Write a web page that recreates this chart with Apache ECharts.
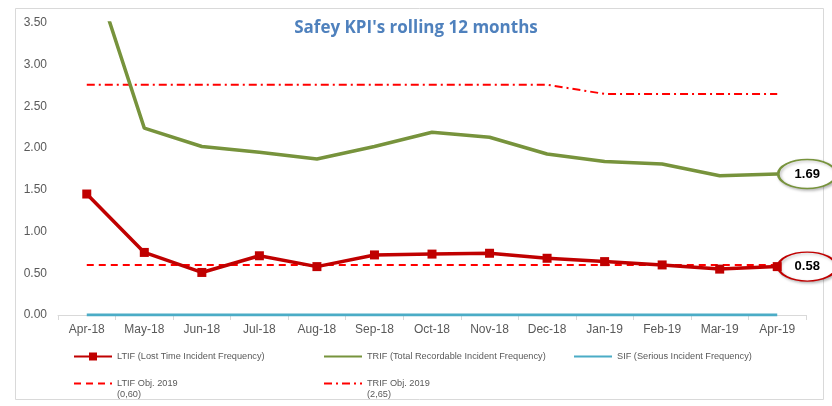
<!DOCTYPE html>
<html>
<head>
<meta charset="utf-8">
<script src="https://cdn.jsdelivr.net/npm/echarts@6/dist/echarts.min.js"></script>
<style>html,body{margin:0;padding:0;background:#fff}#c{width:832px;height:406px}</style>
</head>
<body>
<div id="c"></div>
<script>
const categories = ['Apr-18','May-18','Jun-18','Jul-18','Aug-18','Sep-18','Oct-18','Nov-18','Dec-18','Jan-19','Feb-19','Mar-19','Apr-19'];
const ltif = [1.45,0.75,0.51,0.71,0.58,0.72,0.73,0.74,0.68,0.64,0.60,0.55,0.58];
const trif = [4.35,2.24,2.02,1.95,1.87,2.02,2.19,2.13,1.93,1.84,1.81,1.67,1.69];
const sif = [0,0,0,0,0,0,0,0,0,0,0,0,0];
const ltifObj = [0.60,0.60,0.60,0.60,0.60,0.60,0.60,0.60,0.60,0.60,0.60,0.60,0.60];
const trifObj = [2.76,2.76,2.76,2.76,2.76,2.76,2.76,2.76,2.76,2.65,2.65,2.65,2.65];
const yTicks = {min: 0, max: 3.5, interval: 0.5};
const titleText = "Safey KPI's rolling 12 months";
const names = {
  ltif: 'LTIF (Lost Time Incident Frequency)',
  trif: 'TRIF (Total Recordable Incident Frequency)',
  sif: 'SIF (Serious Incident Frequency)',
  ltifObj: 'LTIF Obj. 2019\n(0,60)',
  trifObj: 'TRIF Obj. 2019\n(2,65)'
};

const FONT = 'Liberation Sans';
const ellipse = 'path://M0,15 A29,15 0 1,1 58,15 A29,15 0 1,1 0,15 Z';
const last = categories.length - 1;

function callout(values, color) {
  return {
    symbol: ellipse,
    symbolSize: [58, 29],
    symbolOffset: [30, 0],
    silent: true,
    itemStyle: {color: '#fff', borderColor: color, borderWidth: 2,
      shadowColor: 'rgba(0,0,0,0.25)', shadowBlur: 3, shadowOffsetX: 1.5, shadowOffsetY: 1.5},
    label: {show: true, position: 'inside', color: '#000', fontWeight: 'bold', fontSize: 13, fontFamily: FONT,
      formatter: () => values[last].toFixed(2)},
    data: [{coord: [categories[last], values[last]]}]
  };
}

const legendText = {color: '#595959', fontSize: 9.2, fontFamily: FONT, lineHeight: 11};
function leg(name, left, top, extra) {
  return Object.assign({
    data: [name], left: left, top: top, itemWidth: 38, itemHeight: 10, itemGap: 0,
    padding: 0, selectedMode: false, textStyle: legendText
  }, extra || {});
}
const noSym = {itemStyle: {color: 'transparent', borderWidth: 0, opacity: 0}};
const twoLine = Object.assign({formatter: n => '\n' + n}, noSym);

const chart = echarts.init(document.getElementById('c'), null, {renderer: 'canvas'});
chart.setOption({
  animation: false,
  backgroundColor: '#fff',
  title: {text: titleText, left: 'center', top: 15,
    textStyle: {color: '#4F81BD', fontSize: 17, fontWeight: 'bold', fontFamily: 'Open Sans'}},
  graphic: [{type: 'rect', left: 13, top: 6, shape: {width: 808, height: 391},
    style: {fill: 'none', stroke: '#d9d9d9', lineWidth: 1}, z: -1, silent: true}],
  grid: {left: 58, right: 26, top: 23, bottom: 91, containLabel: false},
  legend: [
    leg(names.ltif, 73, 351),
    leg(names.trif, 323, 351, noSym),
    leg(names.sif, 573, 351, noSym),
    leg(names.ltifObj, 73, 367, twoLine),
    leg(names.trifObj, 323, 367, twoLine)
  ],
  xAxis: {
    type: 'category', data: categories, boundaryGap: true,
    axisLine: {lineStyle: {color: '#d9d9d9', width: 1}},
    axisTick: {show: true, length: 5, lineStyle: {color: '#d9d9d9'}},
    axisLabel: {color: '#595959', fontSize: 12, fontFamily: FONT, margin: 9, interval: 0}
  },
  yAxis: {
    type: 'value', min: yTicks.min, max: yTicks.max, interval: yTicks.interval,
    splitLine: {show: false}, axisLine: {show: false}, axisTick: {show: false},
    axisLabel: {color: '#595959', fontSize: 12, fontFamily: FONT, margin: 11,
      formatter: v => v.toFixed(2)}
  },
  series: [
    {name: names.sif, type: 'line', data: sif, symbol: 'none', z: 2,
      lineStyle: {color: '#4BACC6', width: 3}, itemStyle: {color: '#4BACC6'}},
    {name: names.ltifObj, type: 'line', data: ltifObj, symbol: 'none', z: 3,
      lineStyle: {color: '#FF0000', width: 2, type: [7, 5]}, itemStyle: {color: '#FF0000'}},
    {name: names.trifObj, type: 'line', data: trifObj, symbol: 'none', z: 3,
      lineStyle: {color: '#FF0000', width: 2, type: [8, 4, 2, 4]}, itemStyle: {color: '#FF0000'}},
    {name: names.trif, type: 'line', data: trif, symbol: 'none', clip: true, z: 4,
      lineStyle: {color: '#77933C', width: 3.5}, itemStyle: {color: '#77933C'},
      markPoint: callout(trif, '#77933C')},
    {name: names.ltif, type: 'line', data: ltif, symbol: 'rect', symbolSize: 9, showSymbol: true, z: 5,
      lineStyle: {color: '#C00000', width: 3.5}, itemStyle: {color: '#C00000'},
      markPoint: callout(ltif, '#C00000')}
  ]
});
</script>
</body>
</html>
